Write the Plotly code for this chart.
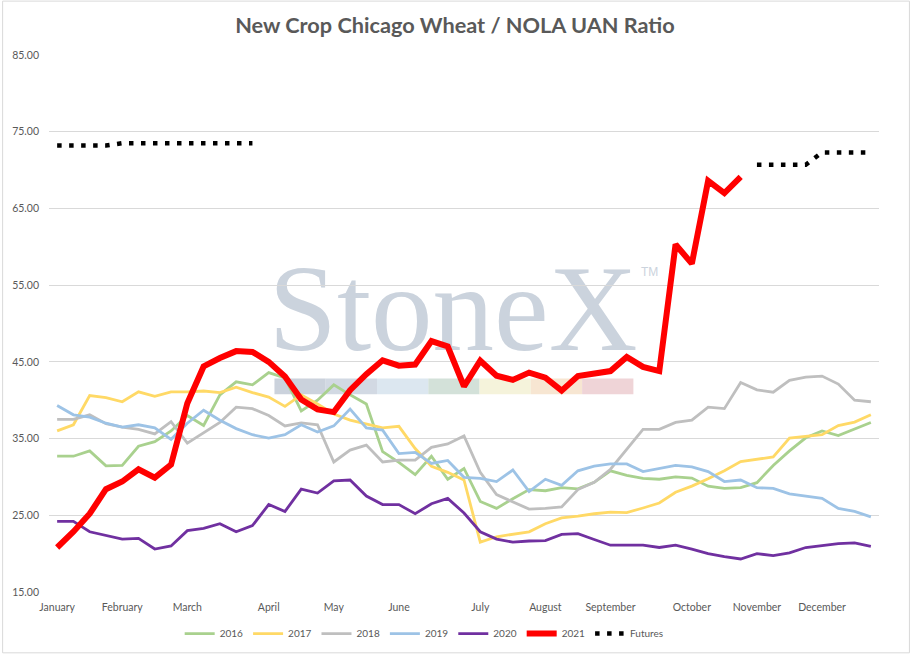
import pandas as pd
import plotly.graph_objects as go

# ---------------- data ----------------
week_start = "2021-01-06"
n_weeks = 51

y2016 = [32.7, 32.7, 33.4, 31.45, 31.5, 34.0, 34.6, 36.0, 38.0, 36.7, 40.7, 42.4, 42.0,
         43.6, 42.9, 38.6, 40.0, 42.0, 40.7, 39.5, 33.3, 31.9, 30.3, 32.7, 29.7, 31.1,
         26.8, 25.9, 27.15, 28.35, 28.2, 28.6, 28.45, 29.3, 30.8, 30.2, 29.8, 29.7, 30.0,
         29.85, 28.8, 28.5, 28.6, 29.25, 31.5, 33.4, 35.1, 36.0, 35.4, 36.2, 37.1]
y2017 = [36.0, 36.8, 40.6, 40.35, 39.8, 41.1, 40.5, 41.1, 41.1, 41.2, 41.0, 41.7, 41.0,
         40.4, 39.2, 40.7, 39.5, 38.2, 37.4, 36.9, 36.4, 36.6, 33.7, 31.4, 30.6, 29.6,
         21.5, 22.2, 22.5, 22.85, 23.9, 24.65, 24.9, 25.2, 25.4, 25.35, 25.95, 26.6, 28.0,
         28.8, 29.75, 30.8, 32.0, 32.3, 32.6, 35.05, 35.3, 35.5, 36.7, 37.15, 38.1]
y2018 = [37.5, 37.5, 38.1, 36.95, 36.5, 36.2, 35.6, 37.2, 34.4, 35.75, 37.1, 39.1, 38.9,
         38.0, 36.65, 37.05, 36.8, 31.95, 33.5, 34.15, 31.95, 32.2, 32.2, 33.85, 34.3, 35.35,
         30.6, 27.7, 26.7, 25.8, 25.9, 26.1, 28.35, 29.3, 31.0, 33.6, 36.2, 36.2, 37.1,
         37.4, 39.1, 38.9, 42.3, 41.35, 41.05, 42.6, 43.0, 43.15, 42.1, 40.0, 39.8]
y2019 = [39.3, 38.1, 37.8, 37.0, 36.5, 36.8, 36.4, 34.9, 37.0, 38.7, 37.4, 36.3, 35.5,
         35.05, 35.5, 36.8, 35.85, 36.65, 38.85, 36.4, 36.1, 33.05, 33.2, 31.75, 32.15, 29.95,
         29.8, 29.4, 30.9, 28.1, 29.7, 28.9, 30.8, 31.4, 31.7, 31.7, 30.7, 31.1, 31.5,
         31.3, 30.7, 29.4, 29.6, 28.6, 28.5, 27.8, 27.5, 27.2, 25.9, 25.5, 24.8]
y2020 = [24.2, 24.2, 22.85, 22.4, 21.9, 22.0, 20.6, 21.0, 23.0, 23.3, 23.9, 22.85, 23.65,
         26.4, 25.5, 28.4, 27.9, 29.5, 29.6, 27.5, 26.4, 26.4, 25.2, 26.5, 27.2, 25.3,
         22.85, 21.9, 21.5, 21.65, 21.7, 22.5, 22.6, 21.85, 21.1, 21.1, 21.1, 20.8, 21.1,
         20.6, 20.0, 19.6, 19.3, 20.0, 19.75, 20.1, 20.8, 21.05, 21.3, 21.4, 20.95]
y2021 = [20.8, 22.85, 25.2, 28.4, 29.4, 31.0, 29.9, 31.6, 39.6, 44.4, 45.5, 46.4, 46.3,
         45.0, 43.1, 40.1, 38.8, 38.45, 41.3, 43.4, 45.2, 44.5, 44.65, 47.7, 47.0, 41.8,
         45.15, 43.2, 42.65, 43.6, 42.95, 41.25, 43.15, 43.4, 43.8, 45.65, 44.35, 43.8, 60.3,
         57.8, 68.6, 67.0, 69.1, None, None, None, None, None, None, None, None]
futures = [73.2, 73.2, 73.2, 73.2, 73.5, 73.5, 73.5, 73.5, 73.5, 73.5, 73.5, 73.5, 73.5,
           None, None, None, None, None, None, None, None, None, None, None, None, None,
           None, None, None, None, None, None, None, None, None, None, None, None, None,
           None, None, None, None, 70.7, 70.7, 70.7, 70.7, 72.3, 72.3, 72.3, 72.3]

series_names = ["2016", "2017", "2018", "2019", "2020", "2021", "Futures"]
title_text = "New Crop Chicago Wheat / NOLA UAN Ratio"
y_ticks = [15, 25, 35, 45, 55, 65, 75, 85]
watermark = "StoneX"

# ---------------- x categories / month ticks ----------------
weeks = pd.date_range(week_start, periods=n_weeks, freq="7D")
x_cats = [d.strftime("%Y-%m-%d") for d in weeks]
tickvals, ticktext = [], []
seen = set()
for d, c in zip(weeks, x_cats):
    if d.month not in seen:
        seen.add(d.month)
        tickvals.append(c)
        ticktext.append(d.strftime("%B"))

# ---------------- geometry ----------------
W, H = 910, 660
ML, MR, MT, MB = 47, 31, 55, 62
PW, PH = W - ML - MR, H - MT - MB


def px2x(px):
    return (px - ML) / PW


def px2y(py):
    return (H - MB - py) / PH


TXT = "#595959"
FONT = "Lato"

styles = [
    dict(color="#A9D18E", width=2.8),
    dict(color="#FFD966", width=2.8),
    dict(color="#BFBFBF", width=2.8),
    dict(color="#9DC3E6", width=2.8),
    dict(color="#7030A0", width=2.8),
    dict(color="#FF0000", width=6),
    dict(color="#000000", width=4.5, dash="4.5px,7.5px"),
]

fig = go.Figure()
for name, ys, st in zip(series_names, [y2016, y2017, y2018, y2019, y2020, y2021, futures], styles):
    fig.add_trace(go.Scatter(x=x_cats, y=ys, name=name, mode="lines",
                             line=st, connectgaps=False, hoverinfo="skip"))

shapes = []
# chart border
shapes.append(dict(type="rect", xref="paper", yref="paper",
                   x0=px2x(0.5), x1=px2x(W - 0.5), y0=px2y(H - 0.5), y1=px2y(0.5),
                   line=dict(color="#D9D9D9", width=1), fillcolor="rgba(0,0,0,0)", layer="below"))
# watermark colour band
band_colors = ["#CBD2DC", "#D2D9E3", "#DCE7F0", "#D3E1D9", "#F5F3DB", "#F7E6D2", "#EFD4D7"]
bx0, bw = 273, 51.4
for k, c in enumerate(band_colors):
    shapes.append(dict(type="rect", xref="paper", yref="paper",
                       x0=px2x(bx0 + k * bw), x1=px2x(bx0 + (k + 1) * bw),
                       y0=px2y(398), y1=px2y(382), fillcolor=c, line=dict(width=0), layer="below"))
# watermark text (shape labels keep it underneath the data lines)
shapes.append(dict(type="rect", xref="paper", yref="paper",
                   x0=px2x(256), x1=px2x(648), y0=px2y(365), y1=px2y(231),
                   line=dict(width=0), fillcolor="rgba(0,0,0,0)", layer="below",
                   label=dict(text=watermark, textposition="middle center",
                              font=dict(family="Liberation Serif", size=123, color="#CBD3DD"))))
shapes.append(dict(type="rect", xref="paper", yref="paper",
                   x0=px2x(636), x1=px2x(662), y0=px2y(281), y1=px2y(265),
                   line=dict(width=0), fillcolor="rgba(0,0,0,0)", layer="below",
                   label=dict(text="TM", textposition="middle center",
                              font=dict(family="Liberation Sans", size=12, color="#CBD3DD"))))

fig.update_layout(
    width=W, height=H,
    margin=dict(l=ML, r=MR, t=MT, b=MB, pad=0),
    paper_bgcolor="white", plot_bgcolor="white",
    title=dict(text="<b>" + title_text + "</b>", x=0.5, xref="container", xanchor="center",
               y=1 - 25.5 / H, yref="container", yanchor="middle",
               font=dict(family=FONT, size=21.7, color=TXT)),
    font=dict(family=FONT, size=11, color=TXT),
    showlegend=True,
    legend=dict(orientation="h", x=px2x(178), xanchor="left", y=px2y(640), yanchor="middle",
                font=dict(family=FONT, size=10, color=TXT), bgcolor="rgba(0,0,0,0)",
                traceorder="normal", borderwidth=0),
    shapes=shapes,
)
fig.update_xaxes(type="category", range=[-0.5, n_weeks - 0.5], tickmode="array",
                 tickvals=tickvals, ticktext=ticktext, showgrid=False, zeroline=False,
                 showline=False, ticks="", tickfont=dict(family=FONT, size=10.5, color=TXT),
                 ticklabelstandoff=7)
fig.update_yaxes(range=[15, 85], tickmode="array", tickvals=y_ticks, tickformat=".2f",
                 showgrid=True, gridcolor="#D9D9D9", gridwidth=1, zeroline=False,
                 showline=False, ticks="", tickfont=dict(family=FONT, size=10.5, color=TXT),
                 ticklabelstandoff=9)

fig.write_html("out.html", config={"displayModeBar": False},
               post_script="document.body.style.margin='0';"
                           "document.documentElement.style.overflow='hidden';"
                           "document.body.style.overflow='hidden';")
